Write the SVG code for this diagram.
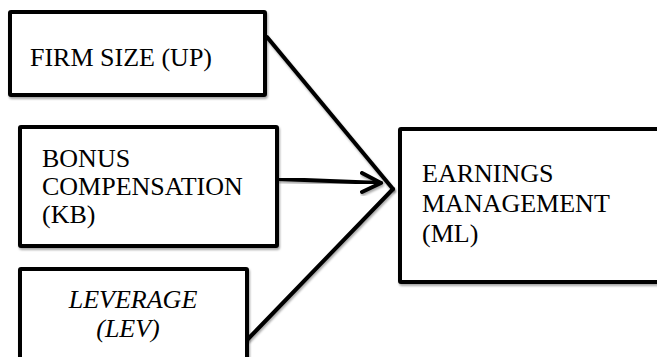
<svg xmlns="http://www.w3.org/2000/svg" width="657" height="357" viewBox="0 0 657 357">
  <defs>
    <filter id="sh" x="-10%" y="-10%" width="130%" height="130%">
      <feDropShadow dx="1" dy="2" stdDeviation="1" flood-color="#000" flood-opacity="0.35"/>
    </filter>
  </defs>
  <style>
    .box { fill: #fff; stroke: #000; stroke-width: 4; stroke-linejoin: round; filter: url(#sh); }
    .lbl { font-family: 'Liberation Serif', 'Times New Roman', serif; font-size: 26px; fill: #000; }
    .it { font-style: italic; }
    .con { fill: none; stroke: #000; stroke-width: 4; stroke-linecap: round; stroke-linejoin: round; filter: url(#sh); }
  </style>
  <rect width="657" height="357" fill="#fff"/>
  <g id="connectors">
    <line class="con" x1="267" y1="37" x2="393" y2="189"/>
    <line class="con" x1="248" y1="339" x2="393" y2="189"/>
    <path class="con" d="M279 179 L381 183"/>
    <path class="con" d="M362 173 L381 183 L362 192"/>
  </g>
  <g id="firm-size">
    <rect class="box" x="10" y="12" width="255" height="83" rx="1"/>
    <text class="lbl" x="30" y="66">FIRM SIZE (UP)</text>
  </g>
  <g id="bonus">
    <rect class="box" x="20" y="127" width="257" height="119" rx="1"/>
    <text class="lbl" x="42" y="167">BONUS</text>
    <text class="lbl" x="42" y="195">COMPENSATION</text>
    <text class="lbl" x="42" y="223">(KB)</text>
  </g>
  <g id="leverage">
    <rect class="box" x="20" y="269" width="227" height="100" rx="1"/>
    <text class="lbl it" x="133" y="308" text-anchor="middle">LEVERAGE</text>
    <text class="lbl it" x="128" y="337" text-anchor="middle">(LEV)</text>
  </g>
  <g id="earnings">
    <rect class="box" x="400" y="129" width="270" height="153" rx="1"/>
    <text class="lbl" x="422" y="182">EARNINGS</text>
    <text class="lbl" x="422" y="212">MANAGEMENT</text>
    <text class="lbl" x="422" y="242">(ML)</text>
  </g>
</svg>
